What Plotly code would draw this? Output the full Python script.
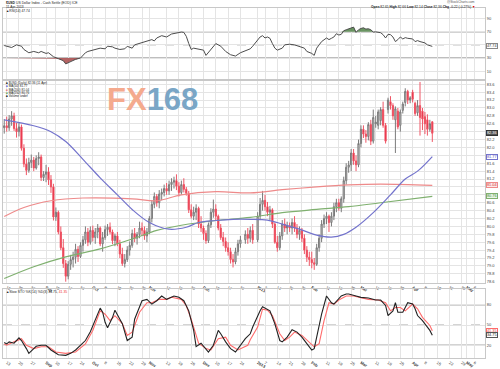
import plotly.graph_objects as go
import pandas as pd
import numpy as np

# ---------------- data ----------------
holidays = ["2012-12-25", "2013-01-01"]
dates = [d.strftime("%Y-%m-%d") for d in pd.bdate_range("2012-08-10", "2013-04-11")
         if d.strftime("%Y-%m-%d") not in holidays]

opens = [
    82.50,
    82.55, 82.50, 82.72, 82.80, 82.48,
    82.40, 82.52, 81.98, 81.58, 81.42,
    81.62, 81.68, 81.48, 81.72, 81.76,
    81.24, 81.32, 81.38, 81.18, 81.00,
    80.24, 80.36, 79.86, 79.46, 79.06,
    78.74, 79.04, 79.16, 79.22, 79.42,
    79.24, 79.52, 79.66, 79.86, 79.60,
    79.90, 79.72, 79.86, 79.96, 79.56,
    79.72, 79.92, 79.98, 79.86, 79.64,
    79.76, 79.56, 79.30, 79.06, 79.16,
    79.40, 79.52, 79.82, 79.70, 79.80,
    79.96, 79.90, 79.76, 79.86, 80.20,
    80.56, 80.76, 80.60, 80.82, 80.86,
    80.96, 80.90, 81.06, 81.12, 81.16,
    81.02, 80.86, 81.06, 80.94, 80.84,
    80.42, 80.26, 80.36, 80.46, 80.06,
    79.96, 79.82, 79.64, 80.04, 80.36,
    80.44, 80.26, 79.96, 79.72, 79.62,
    79.46, 79.36, 79.16, 79.10, 79.36,
    79.56, 79.66, 79.80, 79.70,
    79.90, 79.66, 80.26, 80.56,
    80.66, 80.50, 80.36, 80.42, 80.06,
    79.60, 79.46, 79.76, 80.06, 79.96,
    80.02, 79.96, 80.10, 79.96, 79.80,
    79.90, 79.70, 79.40, 79.22, 79.16,
    79.08, 79.04, 79.46, 79.70, 80.06,
    80.20, 80.26, 80.10, 80.26, 80.50,
    80.60, 80.46, 80.70, 81.16, 81.50,
    81.56, 81.86, 81.66, 81.56, 82.10,
    82.46, 82.34, 82.28, 82.58, 82.16,
    82.60, 82.56, 82.68, 82.96, 82.56,
    82.96, 83.16, 83.06, 82.70, 82.92,
    82.56, 82.94, 83.14, 83.42, 83.20,
    83.40, 83.12, 82.88, 83.06, 82.92,
    82.78, 82.70, 82.46, 82.65,
]
highs = [
    82.72,
    82.78, 82.82, 82.92, 82.88, 82.62,
    82.62, 82.58, 82.08, 81.72, 81.74,
    81.82, 81.76, 81.80, 81.88, 81.82,
    81.40, 81.56, 81.50, 81.30, 81.08,
    80.48, 80.40, 80.00, 79.68, 79.15,
    79.12, 79.28, 79.36, 79.56, 79.50,
    79.60, 79.76, 80.00, 79.96, 80.00,
    80.02, 79.96, 80.06, 80.00, 79.86,
    80.02, 80.06, 80.10, 79.92, 79.82,
    79.86, 79.66, 79.46, 79.30, 79.50,
    79.62, 79.92, 79.96, 79.86, 80.12,
    80.10, 80.00, 79.96, 80.26, 80.66,
    80.86, 80.82, 80.92, 80.96, 81.06,
    81.10, 81.16, 81.22, 81.26, 81.32,
    81.12, 81.16, 81.22, 81.00, 80.90,
    80.56, 80.50, 80.56, 80.50, 80.26,
    80.02, 79.90, 80.10, 80.46, 80.68,
    80.56, 80.30, 80.06, 79.86, 79.72,
    79.60, 79.46, 79.30, 79.46, 79.66,
    79.76, 79.90, 79.96, 80.00,
    80.06, 80.36, 80.72, 80.90,
    80.80, 80.62, 80.52, 80.46, 80.10,
    79.76, 79.86, 80.16, 80.20, 80.12,
    80.10, 80.20, 80.26, 80.06, 80.00,
    79.96, 79.80, 79.50, 79.36, 79.36,
    79.20, 79.56, 79.80, 80.16, 80.30,
    80.36, 80.30, 80.36, 80.60, 80.70,
    80.70, 80.76, 81.26, 81.60, 81.66,
    81.96, 81.96, 81.80, 82.20, 82.56,
    82.56, 82.44, 82.64, 82.70, 82.96,
    82.80, 82.96, 83.02, 83.16, 82.62,
    83.26, 83.30, 83.12, 83.04, 83.00,
    82.96, 83.16, 83.50, 83.46, 83.30,
    83.46, 83.16, 83.20, 83.66, 83.00,
    82.90, 82.84, 82.70, 82.66,
]
lows = [
    82.35,
    82.40, 82.42, 82.55, 82.42, 82.25,
    82.28, 81.92, 81.50, 81.30, 81.36,
    81.48, 81.40, 81.44, 81.55, 81.15,
    81.15, 81.12, 81.05, 80.85, 80.15,
    80.14, 79.80, 79.40, 78.95, 78.60,
    78.66, 78.90, 78.96, 79.06, 79.10,
    79.20, 79.36, 79.56, 79.50, 79.54,
    79.62, 79.56, 79.70, 79.50, 79.36,
    79.66, 79.76, 79.80, 79.55, 79.50,
    79.50, 79.20, 79.00, 78.96, 79.10,
    79.26, 79.46, 79.60, 79.54, 79.70,
    79.76, 79.66, 79.60, 79.80, 80.10,
    80.46, 80.50, 80.46, 80.66, 80.76,
    80.80, 80.80, 80.90, 80.96, 80.92,
    80.76, 80.80, 80.86, 80.78, 80.34,
    80.20, 80.16, 80.16, 79.96, 79.86,
    79.66, 79.56, 79.58, 79.96, 80.22,
    80.16, 79.90, 79.66, 79.50, 79.36,
    79.26, 79.06, 78.96, 79.04, 79.26,
    79.46, 79.56, 79.56, 79.60,
    79.56, 79.60, 80.16, 80.40,
    80.40, 80.26, 80.16, 79.96, 79.56,
    79.36, 79.40, 79.66, 79.86, 79.80,
    79.86, 79.80, 79.86, 79.70, 79.66,
    79.60, 79.30, 79.10, 79.00, 78.94,
    78.90, 79.00, 79.36, 79.60, 79.96,
    80.06, 79.86, 80.00, 80.16, 80.36,
    80.40, 80.36, 80.60, 81.06, 81.36,
    81.40, 81.56, 81.40, 81.50, 82.00,
    82.24, 82.12, 82.18, 82.06, 82.10,
    82.50, 82.46, 82.56, 82.50, 82.10,
    82.86, 82.96, 82.70, 81.86, 82.46,
    82.40, 82.86, 83.04, 83.10, 83.12,
    83.14, 82.80, 82.80, 82.30, 82.44,
    82.34, 82.30, 82.40, 82.14,
]
closes = [
    82.55,
    82.50, 82.72, 82.80, 82.48, 82.40,
    82.52, 81.98, 81.58, 81.42, 81.62,
    81.68, 81.48, 81.72, 81.76, 81.24,
    81.32, 81.38, 81.18, 81.00, 80.24,
    80.36, 79.86, 79.46, 79.06, 78.74,
    79.04, 79.16, 79.22, 79.42, 79.24,
    79.52, 79.66, 79.86, 79.60, 79.90,
    79.72, 79.86, 79.96, 79.56, 79.72,
    79.92, 79.98, 79.86, 79.64, 79.76,
    79.56, 79.30, 79.06, 79.16, 79.40,
    79.52, 79.82, 79.70, 79.80, 79.96,
    79.90, 79.76, 79.86, 80.20, 80.56,
    80.76, 80.60, 80.82, 80.86, 80.96,
    80.90, 81.06, 81.12, 81.16, 81.02,
    80.86, 81.06, 80.94, 80.84, 80.42,
    80.26, 80.36, 80.46, 80.06, 79.96,
    79.82, 79.64, 80.04, 80.36, 80.44,
    80.26, 79.96, 79.72, 79.62, 79.46,
    79.36, 79.16, 79.10, 79.36, 79.56,
    79.66, 79.80, 79.70, 79.90,
    79.66, 80.26, 80.56, 80.66,
    80.50, 80.36, 80.42, 80.06, 79.60,
    79.46, 79.76, 80.06, 79.96, 80.02,
    79.96, 80.10, 79.96, 79.80, 79.90,
    79.70, 79.40, 79.22, 79.16, 79.08,
    79.04, 79.46, 79.70, 80.06, 80.20,
    80.26, 80.10, 80.26, 80.50, 80.60,
    80.46, 80.70, 81.16, 81.50, 81.56,
    81.86, 81.66, 81.56, 82.10, 82.46,
    82.34, 82.28, 82.58, 82.16, 82.76,
    82.64, 82.90, 82.96, 82.56, 82.16,
    83.20, 83.06, 82.80, 82.98, 82.52,
    82.90, 83.10, 83.42, 83.20, 83.26,
    83.22, 82.86, 83.06, 82.76, 82.72,
    82.60, 82.46, 82.60, 82.36,
]

ma50_dates = ["2012-08-10", "2012-08-28", "2012-09-06", "2012-09-14", "2012-09-25", "2012-10-04",
              "2012-10-15", "2012-10-23", "2012-11-01", "2012-11-13", "2012-11-22", "2012-11-29",
              "2012-12-10", "2012-12-19", "2012-12-28", "2013-01-08", "2013-01-16", "2013-01-25",
              "2013-02-05", "2013-02-13", "2013-02-20", "2013-02-27", "2013-03-08", "2013-03-19",
              "2013-03-27", "2013-04-03", "2013-04-11"]
ma50_vals = [82.70, 82.55, 82.40, 82.15, 81.70, 81.23,
             80.80, 80.43, 80.10, 79.93, 79.98, 80.10,
             80.15, 80.18, 80.18, 80.16, 80.06, 79.93,
             79.78, 79.73, 79.80, 79.98, 80.35, 80.80,
             81.20, 81.40, 81.77]

ma200_dates = ["2012-08-10", "2012-08-22", "2012-09-06", "2012-09-25", "2012-10-23", "2012-11-06",
               "2012-11-20", "2012-12-10", "2012-12-28", "2013-01-16", "2013-02-05", "2013-02-22",
               "2013-03-13", "2013-04-11"]
ma200_vals = [80.25, 80.48, 80.65, 80.72, 80.70, 80.65,
              80.80, 80.88, 80.85, 80.93, 81.00, 81.05,
              81.07, 81.04]

ma250_dates = ["2012-08-10", "2012-08-28", "2012-09-14", "2012-10-04", "2012-10-23", "2012-11-06",
               "2012-11-20", "2012-12-10", "2012-12-28", "2013-01-16", "2013-02-05", "2013-02-22",
               "2013-03-13", "2013-04-11"]
ma250_vals = [78.68, 78.98, 79.23, 79.43, 79.68, 79.90,
              80.03, 80.15, 80.23, 80.35, 80.43, 80.50,
              80.60, 80.76]

rsi_dates = ["2012-08-10", "2012-08-13", "2012-08-15", "2012-08-17", "2012-08-21", "2012-08-22",
             "2012-08-24", "2012-08-28", "2012-08-30", "2012-08-31", "2012-09-04", "2012-09-05",
             "2012-09-07", "2012-09-11", "2012-09-13", "2012-09-14", "2012-09-18", "2012-09-20",
             "2012-09-24", "2012-09-26", "2012-09-27", "2012-10-01", "2012-10-03", "2012-10-04",
             "2012-10-08", "2012-10-09", "2012-10-11", "2012-10-12", "2012-10-16", "2012-10-18",
             "2012-10-19", "2012-10-23", "2012-10-24", "2012-10-26", "2012-10-29", "2012-10-31",
             "2012-11-02", "2012-11-05", "2012-11-06", "2012-11-08", "2012-11-12", "2012-11-14",
             "2012-11-16", "2012-11-20", "2012-11-21", "2012-11-22", "2012-11-23", "2012-11-26",
             "2012-11-27", "2012-11-29", "2012-12-03", "2012-12-04", "2012-12-07", "2012-12-10",
             "2012-12-12", "2012-12-14", "2012-12-18", "2012-12-20", "2012-12-24", "2012-12-27",
             "2012-12-28", "2012-12-31", "2013-01-02", "2013-01-03", "2013-01-04", "2013-01-07",
             "2013-01-08", "2013-01-09", "2013-01-10", "2013-01-11", "2013-01-14", "2013-01-16",
             "2013-01-17", "2013-01-21", "2013-01-23", "2013-01-25", "2013-01-29", "2013-01-30",
             "2013-02-01", "2013-02-04", "2013-02-05", "2013-02-06", "2013-02-07", "2013-02-11",
             "2013-02-12", "2013-02-13", "2013-02-14", "2013-02-15", "2013-02-18", "2013-02-19",
             "2013-02-20", "2013-02-21", "2013-02-22", "2013-02-25", "2013-02-26", "2013-02-27",
             "2013-02-28", "2013-03-01", "2013-03-04", "2013-03-05", "2013-03-06", "2013-03-07",
             "2013-03-08", "2013-03-11", "2013-03-12", "2013-03-13", "2013-03-14", "2013-03-15",
             "2013-03-18", "2013-03-19", "2013-03-20", "2013-03-21", "2013-03-22", "2013-03-25",
             "2013-03-26", "2013-03-27", "2013-03-28", "2013-03-29", "2013-04-01", "2013-04-02",
             "2013-04-03", "2013-04-04", "2013-04-05", "2013-04-08", "2013-04-09", "2013-04-10",
             "2013-04-11"]
rsi_vals = [49, 47.8, 46, 50, 48, 43,
            38, 40, 38, 40, 37, 38,
            32, 29, 26, 21, 25, 28,
            30, 38, 40, 42, 43, 45,
            44, 48, 47, 45, 43, 44,
            47.8, 45, 50, 52, 54, 55,
            58, 56, 60.5, 64, 62, 66.5,
            68, 69.5, 69, 63, 52, 43,
            45, 44, 42, 34, 48, 52,
            48, 40, 35, 33, 38, 43,
            44, 48, 58, 62, 64, 60.5,
            62, 60, 52, 45, 42, 45,
            50, 51, 50, 48, 45, 40,
            37, 34, 45, 50, 55, 60.5,
            58, 60, 62, 67, 65, 66,
            71.5, 73, 74, 76, 77, 69,
            73, 75, 76, 74, 74.5, 73,
            69.5, 69.8, 69.5, 68.5, 65.5, 60.5,
            66, 65.5, 62, 55, 58, 62,
            59, 61, 60, 60, 59, 55,
            56.5, 55, 54, 53, 50, 48.5,
            47.74]

stk_dates = ["2012-08-10", "2012-08-13", "2012-08-14", "2012-08-16", "2012-08-20", "2012-08-21",
             "2012-08-23", "2012-08-24", "2012-08-28", "2012-08-29", "2012-08-31", "2012-09-04",
             "2012-09-06", "2012-09-11", "2012-09-14", "2012-09-18", "2012-09-20", "2012-09-24",
             "2012-09-26", "2012-09-28", "2012-10-03", "2012-10-04", "2012-10-05", "2012-10-08",
             "2012-10-09", "2012-10-11", "2012-10-12", "2012-10-15", "2012-10-17", "2012-10-19",
             "2012-10-23", "2012-10-24", "2012-10-26", "2012-10-29", "2012-10-31", "2012-11-02",
             "2012-11-06", "2012-11-08", "2012-11-12", "2012-11-14", "2012-11-15", "2012-11-19",
             "2012-11-21", "2012-11-23", "2012-11-27", "2012-11-28", "2012-11-30", "2012-12-05",
             "2012-12-07", "2012-12-11", "2012-12-12", "2012-12-14", "2012-12-18", "2012-12-20",
             "2012-12-21", "2012-12-26", "2012-12-28", "2012-12-31", "2013-01-03", "2013-01-04",
             "2013-01-09", "2013-01-11", "2013-01-15", "2013-01-16", "2013-01-18", "2013-01-22",
             "2013-01-24", "2013-01-28", "2013-01-30", "2013-02-01", "2013-02-04", "2013-02-05",
             "2013-02-07", "2013-02-11", "2013-02-13", "2013-02-14", "2013-02-19", "2013-02-21",
             "2013-02-22", "2013-02-27", "2013-03-01", "2013-03-06", "2013-03-11", "2013-03-13",
             "2013-03-15", "2013-03-18", "2013-03-20", "2013-03-21", "2013-03-22", "2013-03-26",
             "2013-03-28", "2013-04-01", "2013-04-02", "2013-04-03", "2013-04-05", "2013-04-09",
             "2013-04-10", "2013-04-11"]
stk_vals = [24, 22, 25, 23, 31, 27,
            15, 8, 15, 18.5, 20, 20,
            13, 6, 5, 8, 13, 20,
            27, 40, 66, 75, 69, 54,
            46, 61, 72, 66, 52, 27,
            32, 58.5, 76, 86, 88, 81,
            86, 93, 88, 91, 93, 91,
            86, 71, 42, 18, 23, 10,
            20, 42, 37, 25, 15, 10,
            15, 29.7, 37, 47, 71, 77,
            71, 51.7, 27, 25, 32, 43,
            39.5, 32, 22.4, 13, 15, 32,
            66, 93, 83, 81, 93, 96,
            96, 93, 91, 90, 87, 87,
            79, 64, 71, 83, 69, 69,
            83, 81, 74, 64, 56.5, 46.8,
            42, 34.75]

std_dates = ["2012-08-10", "2012-08-13", "2012-08-16", "2012-08-21", "2012-08-23", "2012-08-28",
             "2012-08-31", "2012-09-05", "2012-09-10", "2012-09-14", "2012-09-20", "2012-09-26",
             "2012-10-01", "2012-10-04", "2012-10-08", "2012-10-10", "2012-10-12", "2012-10-17",
             "2012-10-19", "2012-10-23", "2012-10-26", "2012-10-31", "2012-11-02", "2012-11-07",
             "2012-11-12", "2012-11-14", "2012-11-20", "2012-11-22", "2012-11-26", "2012-11-29",
             "2012-12-04", "2012-12-06", "2012-12-11", "2012-12-14", "2012-12-18", "2012-12-21",
             "2012-12-27", "2012-12-28", "2013-01-02", "2013-01-04", "2013-01-08", "2013-01-10",
             "2013-01-15", "2013-01-17", "2013-01-21", "2013-01-23", "2013-01-28", "2013-01-31",
             "2013-02-04", "2013-02-06", "2013-02-08", "2013-02-12", "2013-02-14", "2013-02-18",
             "2013-02-21", "2013-02-26", "2013-02-28", "2013-03-06", "2013-03-12", "2013-03-15",
             "2013-03-19", "2013-03-21", "2013-03-25", "2013-03-27", "2013-04-01", "2013-04-03",
             "2013-04-05", "2013-04-10", "2013-04-11"]
std_vals = [22, 20, 25, 29.7, 20, 15,
            17.7, 17.7, 10, 8, 10, 22,
            42, 71, 66, 56.5, 63.8, 52,
            34.6, 39.5, 69, 83, 83, 88,
            88, 91, 88, 78.6, 58.5, 23,
            15, 13, 29.7, 32, 20, 13,
            20, 28, 47, 73.5, 72, 64,
            37, 27, 32, 39.5, 34.6, 25,
            17.7, 22.4, 56.5, 83, 81, 87,
            93, 93, 91, 88, 87, 83,
            71, 76, 76, 71, 81, 74,
            61.4, 49.3, 41.35]

tick_dates = ["2012-08-13", "2012-08-20", "2012-08-27", "2012-09-04", "2012-09-10", "2012-09-17",
              "2012-09-24", "2012-10-01", "2012-10-08", "2012-10-15", "2012-10-22", "2012-10-29",
              "2012-11-01", "2012-11-12", "2012-11-19", "2012-11-26", "2012-12-03", "2012-12-10",
              "2012-12-17", "2012-12-24", "2013-01-02", "2013-01-07", "2013-01-14", "2013-01-21",
              "2013-01-28", "2013-02-01", "2013-02-11", "2013-02-18", "2013-02-25", "2013-03-01",
              "2013-03-11", "2013-03-18", "2013-03-25", "2013-04-01", "2013-04-08", "2013-04-15",
              "2013-04-22", "2013-04-29", "2013-05-01", "2013-05-06"]
tick_labels = ["13", "20", "27", "<b>Sep</b>", "10", "17",
               "24", "<b>Oct</b>", "8", "15", "22", "29",
               "<b>Nov</b>", "12", "19", "26", "<b>Dec</b>", "10",
               "17", "24", "<b>2013</b>", "7", "14", "21",
               "28", "<b>Feb</b>", "11", "18", "25", "<b>Mar</b>",
               "11", "18", "25", "<b>Apr</b>", "8", "15",
               "22", "29", "<b>May</b>", "6"]

rsi_ticks = [10, 30, 50, 70, 90]
rsi_levels = [30, 50, 70]
sto_ticks = [20, 50, 80]
sto_levels = [20, 50, 80]

# ---------------- layout helpers ----------------
W, H = 500, 369
ML, MR = 3, 15
FONT = "Liberation Sans"


def px_x(x):
    return (x - ML) / (W - ML - MR)


def px_y(y):
    return 1 - y / H


x_range = ["2012-08-09 12:00", "2013-05-10 10:00"]
rbreaks = [dict(bounds=["sat", "mon"])]

GRID = "#e4e4e4"
fig = go.Figure()

# ---- RSI panel ----
rsi = np.array(rsi_vals, dtype=float)
fig.add_trace(go.Scatter(x=rsi_dates, y=[30] * len(rsi), mode="lines", line=dict(width=0),
                         hoverinfo="skip", showlegend=False, xaxis="x", yaxis="y"))
fig.add_trace(go.Scatter(x=rsi_dates, y=np.minimum(rsi, 30), mode="lines", line=dict(width=0),
                         fill="tonexty", fillcolor="rgba(168,72,72,0.85)",
                         hoverinfo="skip", showlegend=False, xaxis="x", yaxis="y"))
fig.add_trace(go.Scatter(x=rsi_dates, y=[70] * len(rsi), mode="lines", line=dict(width=0),
                         hoverinfo="skip", showlegend=False, xaxis="x", yaxis="y"))
fig.add_trace(go.Scatter(x=rsi_dates, y=np.maximum(rsi, 70), mode="lines", line=dict(width=0),
                         fill="tonexty", fillcolor="rgba(80,130,70,0.85)",
                         hoverinfo="skip", showlegend=False, xaxis="x", yaxis="y"))
fig.add_trace(go.Scatter(x=rsi_dates, y=rsi, mode="lines", line=dict(color="#4d4d4d", width=1),
                         showlegend=False, xaxis="x", yaxis="y"))

# ---- price panel ----
fig.add_trace(go.Candlestick(
    x=dates, open=opens, high=highs, low=lows, close=closes,
    increasing=dict(line=dict(color="#7a7a7a", width=1), fillcolor="#cfcfcf"),
    decreasing=dict(line=dict(color="#ef5565", width=1), fillcolor="#e0102a"),
    showlegend=False, xaxis="x2", yaxis="y2"))
fig.add_trace(go.Scatter(x=ma200_dates, y=ma200_vals, mode="lines", line_shape="spline",
                         line=dict(color="#ee8a8a", width=1.2), showlegend=False, xaxis="x2", yaxis="y2"))
fig.add_trace(go.Scatter(x=ma250_dates, y=ma250_vals, mode="lines", line_shape="spline",
                         line=dict(color="#7fb06f", width=1.2), showlegend=False, xaxis="x2", yaxis="y2"))
fig.add_trace(go.Scatter(x=ma50_dates, y=ma50_vals, mode="lines", line_shape="spline",
                         line=dict(color="#7373cc", width=1.2), showlegend=False, xaxis="x2", yaxis="y2"))

# ---- stochastic panel ----
fig.add_trace(go.Scatter(x=std_dates, y=std_vals, mode="lines", line=dict(color="#ff6b6b", width=1.1),
                         showlegend=False, xaxis="x3", yaxis="y3"))
fig.add_trace(go.Scatter(x=stk_dates, y=stk_vals, mode="lines", line=dict(color="#222222", width=1.1),
                         showlegend=False, xaxis="x3", yaxis="y3"))

# ---- level lines ----
shapes = []
for lv in rsi_levels:
    shapes.append(dict(type="line", xref="x domain", yref="y", x0=0, x1=1, y0=lv, y1=lv, layer="below",
                       line=dict(color="#a8a8a8", width=1 if lv == 50 else 1.6,
                                 dash="dash" if lv == 50 else "solid")))
for lv in sto_levels:
    shapes.append(dict(type="line", xref="x3 domain", yref="y3", x0=0, x1=1, y0=lv, y1=lv, layer="below",
                       line=dict(color="#a8a8a8", width=1 if lv == 50 else 1.6,
                                 dash="dash" if lv == 50 else "solid")))

# ---- axes ----
xcommon = dict(type="date", range=x_range, rangebreaks=rbreaks, tickmode="array",
               tickvals=tick_dates, ticktext=tick_labels, showgrid=True, gridcolor=GRID, gridwidth=1,
               ticks="", tickfont=dict(size=4, color="#333333", family=FONT),
               showline=True, linecolor="#c8c8c8", mirror=True, zeroline=False)
ycommon = dict(side="right", showgrid=True, gridcolor=GRID, gridwidth=1, ticks="",
               tickfont=dict(size=4, color="#444444", family=FONT), zeroline=False,
               showline=True, linecolor="#c8c8c8", mirror=True)

rsi_dom = [px_y(80), px_y(8)]
price_dom = [px_y(285), px_y(82)]
sto_dom = [px_y(361), px_y(291)]

fig.update_layout(
    width=W, height=H, margin=dict(l=ML, r=MR, t=0, b=0),
    paper_bgcolor="white", plot_bgcolor="white", showlegend=False,
    xaxis=dict(xcommon, anchor="y", showticklabels=False),
    xaxis2=dict(xcommon, anchor="y2", showticklabels=True, rangeslider=dict(visible=False)),
    xaxis3=dict(xcommon, anchor="y3", showticklabels=True),
    yaxis=dict(ycommon, domain=rsi_dom, anchor="x", range=[-2.45, 106.2], tickmode="array",
               tickvals=rsi_ticks),
    yaxis2=dict(ycommon, domain=price_dom, anchor="x2", range=[78.575, 83.675], dtick=0.2,
                tick0=78.6, tickformat=".1f"),
    yaxis3=dict(ycommon, domain=sto_dom, anchor="x3", range=[1.0, 103.9], tickmode="array",
                tickvals=sto_ticks),
    shapes=shapes,
)

# ---- annotations ----
ann = []


def text(x, y, s, size=4, color="#222222", anchor="left", **kw):
    ann.append(dict(x=px_x(x), y=px_y(y), xref="paper", yref="paper", text=s, showarrow=False,
                    xanchor=anchor, yanchor="middle", font=dict(size=size, color=color, family=FONT), **kw))


text(4, 3, "<b>$USD</b> US Dollar Index - Cash Settle (EOD) ICE", 3.4)
text(4, 7, "11-Apr-2013", 3.2)
text(4, 11.5, "▲RSI(14) 47.74", 3.3)
text(477, 2.5, "@StockCharts.com", 3.2, "#555555", "right")
text(477, 7.5, "<b>Open</b> 82.65 <b>High</b> 82.66 <b>Low</b> 82.14 <b>Close</b> 82.36 "
               "<b>Chg</b> -0.22 (-0.27%) <span style='color:#e00000'>▼</span>", 3.3, "#222222", "right")

text(4, 84, "■ $USD (Daily) 82.36 (11 Apr)", 3.1, "#222222")
text(4, 87.2, "<span style='color:#6b6bd0'>■</span> MA(50) 81.77", 3.1, "#222222")
text(4, 90.4, "<span style='color:#e87a7a'>■</span> MA(200) 81.04", 3.1, "#222222")
text(4, 93.6, "<span style='color:#6aa85c'>■</span> MA(250) 80.76", 3.1, "#222222")
text(4, 96.8, "■ Volume undef", 3.1, "#222222")

text(152, 100, "<b><span style='color:#f4aa8e'>FX</span><span style='color:#7aa6c6'>168</span></b>",
     31, "#7aa6c6", "center")

text(4, 294, "▲Slow STO %K(14) %D(3) 34.75, <span style='color:#f03030'>41.35</span>", 3.4)


def badge(val, yref, fg, bg, border):
    ann.append(dict(x=1, xref="paper", xanchor="left", xshift=1, y=val, yref=yref, yanchor="middle",
                    text=f"{val:.2f}", showarrow=False, bgcolor=bg, bordercolor=border, borderwidth=1,
                    borderpad=0, font=dict(size=3.8, color=fg, family=FONT)))


badge(closes[-1], "y2", "white", "#555555", "#333333")
badge(ma50_vals[-1], "y2", "#5050c0", "white", "#7373cc")
badge(ma200_vals[-1], "y2", "#d03030", "#fde8e8", "#ee8a8a")
badge(ma250_vals[-1], "y2", "#3a8a3a", "#eaf5e6", "#7fb06f")
badge(rsi_vals[-1], "y", "#333333", "white", "#888888")
badge(std_vals[-1], "y3", "#e03030", "white", "#ff6b6b")
badge(stk_vals[-1], "y3", "#222222", "white", "#555555")

fig.update_layout(annotations=ann)
fig.write_html("out.html", config={"displayModeBar": False},
               post_script="document.body.style.margin='0';document.body.style.padding='0';")
